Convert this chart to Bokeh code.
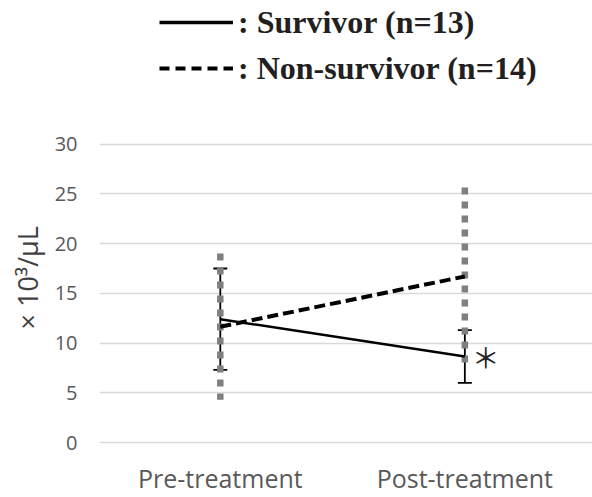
import numpy as np
from bokeh.plotting import figure
from bokeh.models import (ColumnDataSource, Range1d, FixedTicker, Legend, LegendItem, Title)
from bokeh.core.properties import value
from bokeh.embed import file_html
from bokeh.resources import INLINE

# ---- data ----
categories = ["Pre-treatment", "Post-treatment"]
survivor_mean = [12.4, 8.65]
survivor_sd = [5.1, 2.65]
nonsurvivor_mean = [11.65, 16.7]
nonsurvivor_sd = [7.35, 8.95]
y_ticks = [0, 5, 10, 15, 20, 25, 30]
legend_labels = [": Survivor (n=13)", ": Non-survivor (n=14)"]
y_title = "× 10³/μL"
sig_mark = "＊"

x = list(np.arange(len(categories)) + 0.5)

surv = ColumnDataSource(dict(
    x=x, y=survivor_mean,
    lo=[m - s for m, s in zip(survivor_mean, survivor_sd)],
    hi=[m + s for m, s in zip(survivor_mean, survivor_sd)],
))
nons = ColumnDataSource(dict(
    x=x, y=nonsurvivor_mean,
    lo=[m - s for m, s in zip(nonsurvivor_mean, nonsurvivor_sd)],
    hi=[m + s for m, s in zip(nonsurvivor_mean, nonsurvivor_sd)],
))

p = figure(width=592, height=497, output_backend="svg", toolbar_location=None,
           x_range=Range1d(0.006, 2.022), y_range=Range1d(-1.2, 44.44),
           min_border_left=98, min_border_right=0, min_border_top=0,
           min_border_bottom=42)
p.outline_line_color = None
p.background_fill_color = "white"
p.border_fill_color = "white"

# axes
p.xaxis.ticker = FixedTicker(ticks=x)
p.xaxis.major_label_overrides = {float(v): c for v, c in zip(x, categories)}
p.xaxis.axis_line_color = None
p.xaxis.major_tick_line_color = None
p.xaxis.major_tick_out = 0
p.xaxis.major_tick_in = 0
p.xaxis.minor_tick_line_color = None
p.xaxis.major_label_text_font = "Open Sans"
p.xaxis.major_label_text_font_size = "25px"
p.xaxis.major_label_text_color = "#595959"
p.xaxis.major_label_standoff = 6
p.xgrid.grid_line_color = None

p.yaxis.ticker = FixedTicker(ticks=y_ticks)
p.yaxis.axis_line_color = None
p.yaxis.major_tick_line_color = None
p.yaxis.major_tick_out = 0
p.yaxis.major_tick_in = 0
p.yaxis.minor_tick_line_color = None
p.yaxis.major_label_text_font = "Open Sans"
p.yaxis.major_label_text_font_size = "20px"
p.yaxis.major_label_text_color = "#595959"
p.yaxis.major_label_standoff = 22
p.ygrid.grid_line_color = "#d9d9d9"
p.ygrid.grid_line_width = 1.3

# survivor error bars (black)
p.segment(x0="x", y0="lo", x1="x", y1="hi", source=surv, line_color="black", line_width=1.8)
p.scatter(x="x", y="lo", source=surv, marker="dash", size=14, line_color="black", line_width=1.8)
p.scatter(x="x", y="hi", source=surv, marker="dash", size=14, line_color="black", line_width=1.8)

# non-survivor error bars (grey square dots)
p.segment(x0="x", y0="hi", x1="x", y1="lo", source=nons, line_color="#7f7f7f",
          line_width=6.5, line_dash="7 7", line_cap="butt")

# mean lines
p.line(x="x", y="y", source=surv, line_color="black", line_width=2.5)
p.line(x="x", y="y", source=nons, line_color="black", line_width=4, line_dash="11 5")

# significance mark
sig = ColumnDataSource(dict(x=[x[1]], y=[survivor_mean[1]], t=[sig_mark]))
p.text(x="x", y="y", text="t", source=sig, x_offset=21, text_align="center",
       text_baseline="middle", text_font=value("Noto Sans CJK JP"),
       text_font_size="28px", text_color="#222222")

# legend (dummy renderers for legend styling)
r1 = p.line(x=[np.nan], y=[np.nan], line_color="black", line_width=3.5)
r2 = p.line(x=[np.nan], y=[np.nan], line_color="black", line_width=4, line_dash="10 6")
legend = Legend(items=[LegendItem(label=legend_labels[0], renderers=[r1]),
                       LegendItem(label=legend_labels[1], renderers=[r2])],
                location=(60, 367), orientation="vertical",
                glyph_width=74, glyph_height=38, label_height=38, spacing=8,
                label_standoff=5, padding=0, margin=0,
                border_line_color=None, background_fill_alpha=0,
                label_text_font="Liberation Serif", label_text_font_style="bold",
                label_text_font_size="32px", label_text_color="#231f20")
p.add_layout(legend, "center")

# y-axis title as a left-panel title
p.add_layout(Title(text=y_title, align="left", offset=125, standoff=12,
                   text_font="Open Sans", text_font_size="27px",
                   text_font_style="normal", text_color="#404040"), "left")

open("out.html", "w").write(file_html(p, INLINE))
